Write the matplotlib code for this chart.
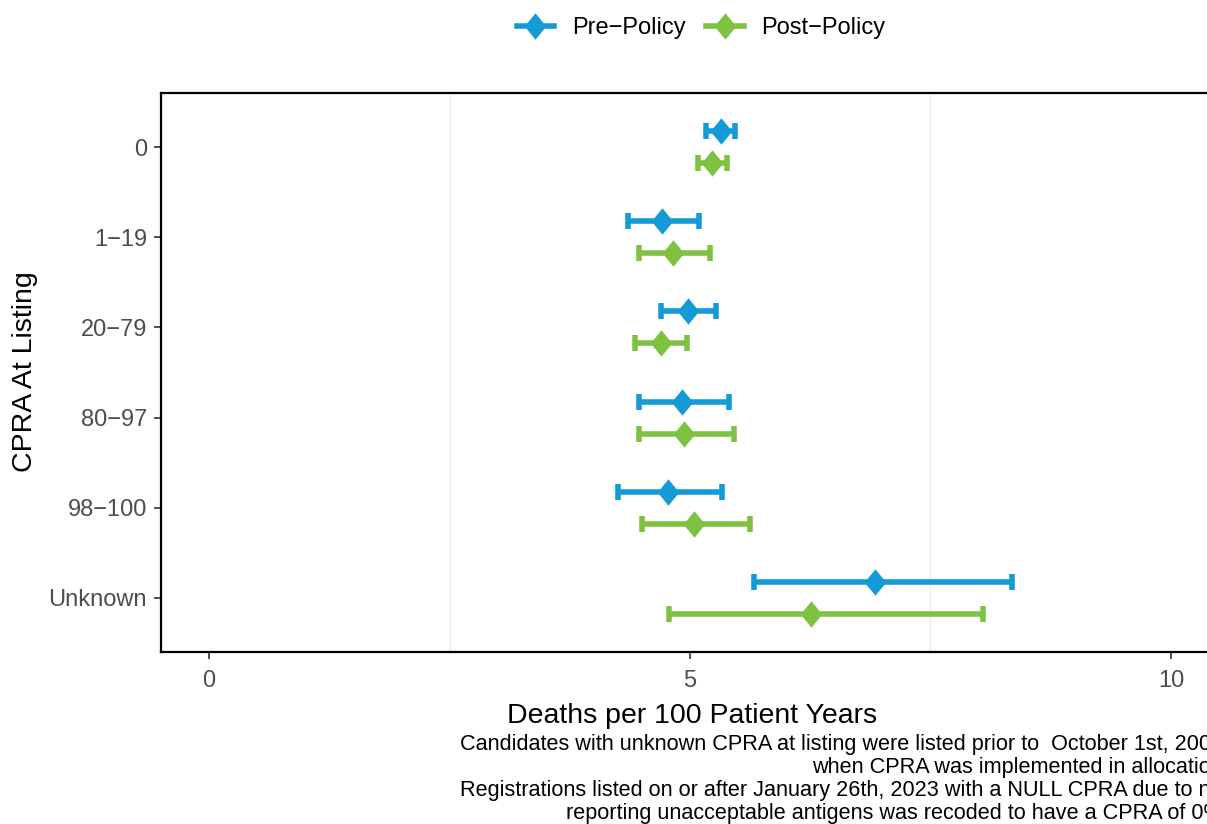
# Dot-and-whisker chart of death rates by CPRA at listing, pre vs post policy

import matplotlib
matplotlib.use("Agg")
import matplotlib.pyplot as plt
from matplotlib.lines import Line2D
import numpy as np

plt.rcParams['font.family'] = ['Liberation Sans', 'DejaVu Sans']

# Data
categories = ["0", "1\u221219", "20\u221279", "80\u221297", "98\u2212100", "Unknown"]
pre_rate = [5.32, 4.71, 4.98, 4.92, 4.77, 6.92]
pre_low = [5.17, 4.36, 4.70, 4.47, 4.25, 5.67]
pre_high = [5.47, 5.09, 5.27, 5.41, 5.33, 8.35]
post_rate = [5.23, 4.82, 4.70, 4.94, 5.04, 6.26]
post_low = [5.08, 4.47, 4.43, 4.47, 4.50, 4.78]
post_high = [5.38, 5.21, 4.97, 5.46, 5.62, 8.05]
series_names = ["Pre\u2212Policy", "Post\u2212Policy"]
caption = ("Candidates with unknown CPRA at listing were listed prior to  October 1st, 2009,\n"
           "when CPRA was implemented in allocation.\n"
           "Registrations listed on or after January 26th, 2023 with a NULL CPRA due to not\n"
           "reporting unacceptable antigens was recoded to have a CPRA of 0%.")

blue = "#149BD7"
green = "#7FC242"

# diamond a bit narrower than tall, like R's shape 18
diamond = [(0, 1), (0.82, 0), (0, -1), (-0.82, 0), (0, 1)]

W, H = 1207, 824
fig = plt.figure(figsize=(W / 100, H / 100), dpi=100)
ax = fig.add_axes([161 / W, 1 - 652 / H, (1219 - 161) / W, (652 - 93) / H])

y = np.arange(len(categories))
offset = 0.177

series = [
    (pre_rate, pre_low, pre_high, blue, -offset),
    (post_rate, post_low, post_high, green, offset),
]
for rate, low, high, color, dy in series:
    rate = np.array(rate)
    err = [rate - np.array(low), np.array(high) - rate]
    ax.errorbar(rate, y + dy, xerr=err, fmt="none", ecolor=color,
                elinewidth=4, capsize=5.5, capthick=4, zorder=2)
    ax.plot(rate, y + dy, linestyle="none", marker=diamond, markersize=19,
            color=color, markeredgewidth=0, zorder=3)

# axes styling (ggplot theme_bw-like, only minor vertical grid visible)
ax.set_xlim(-0.5, 10.5)
ax.set_ylim(len(categories) - 0.4, -0.6)
ax.set_xticks([0, 5, 10])
ax.set_xticklabels(["0", "5", "10"])
ax.set_yticks(y)
ax.set_yticklabels(categories)
for gx in [2.5, 7.5]:
    ax.axvline(gx, color="#EBEBEB", linewidth=0.8, zorder=0)
for side in ax.spines.values():
    side.set_linewidth(1.6)
    side.set_color("black")
ax.tick_params(axis="both", colors="#333333", length=5, width=1.2,
               labelsize=17, labelcolor="#4D4D4D", pad=5)
ax.tick_params(axis="x", pad=8)

# titles
fig.text(692 / W, 1 - 716 / H, "Deaths per 100 Patient Years", fontsize=20.5,
         ha="center", va="center")
fig.text(25 / W, 1 - 372 / H, "CPRA At Listing", fontsize=20.5,
         rotation=90, ha="center", va="center")
fig.text(1229 / W, 1 - 734 / H, caption, fontsize=15.6, ha="right", va="top",
         multialignment="right", linespacing=1.13)

# legend on top
handles = [
    Line2D([0], [0], color=blue, linewidth=4, marker=diamond, markersize=19,
           markeredgewidth=0),
    Line2D([0], [0], color=green, linewidth=4, marker=diamond, markersize=19,
           markeredgewidth=0),
]
fig.legend(handles, series_names, loc="center", bbox_to_anchor=(701 / W, 1 - 28 / H),
           ncol=2, frameon=False, fontsize=17, handlelength=1.6,
           handletextpad=0.75, columnspacing=0.85)

fig.savefig("out.png", dpi=100)
